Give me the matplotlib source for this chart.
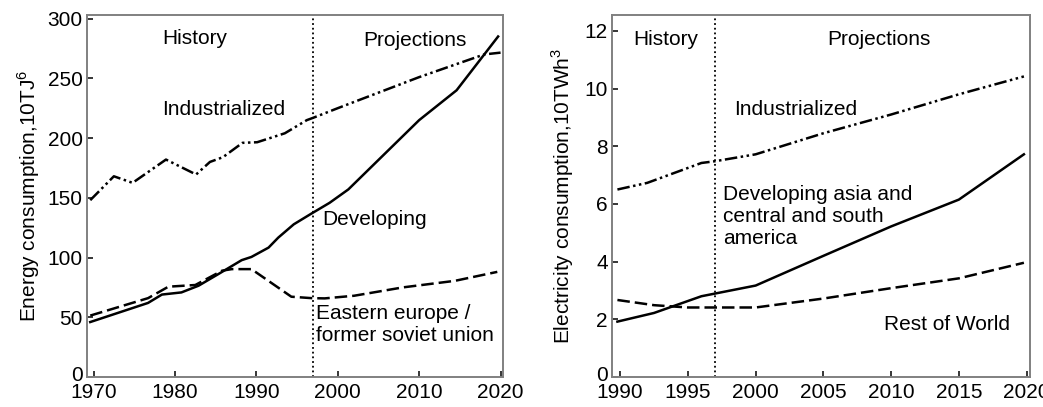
import matplotlib
matplotlib.use('Agg')
import matplotlib.pyplot as plt
import matplotlib.transforms as mtransforms

plt.rcParams['font.family'] = ['Liberation Sans', 'DejaVu Sans']
plt.rcParams['mathtext.fontset'] = 'custom'
plt.rcParams['mathtext.rm'] = 'Liberation Sans'

# left panel: energy consumption (10TJ^6)
ind_years = [1969.6, 1972.5, 1974.8, 1978.9, 1982.6, 1984.3, 1985.9, 1988.3,
             1990.1, 1993.5, 1996.2, 1997, 2000, 2010, 2018, 2020]
ind_energy = [148, 168, 162.5, 182, 169.5, 180, 184, 196,
              196.5, 204, 215, 217, 225, 251, 270, 271.5]

dev_years = [1969.6, 1976.7, 1978.4, 1980.8, 1982.9, 1985.3, 1988.2, 1989.4,
             1991.5, 1992.7, 1994.6, 1996.7, 1999.0, 2001.3, 2005.2, 2010,
             2014.6, 2019.7]
dev_energy = [46, 62, 69, 70.8, 76.4, 86, 97.8, 100.5,
              108.3, 116.7, 127.8, 136.5, 145.8, 157, 183, 215,
              240, 285]

ee_years = [1969.6, 1976.7, 1979.2, 1982.5, 1985.8, 1987, 1989.4, 1994.3,
            1996.8, 1998.4, 2002, 2008, 2014.4, 2019.6]
ee_energy = [51.4, 66, 75.6, 77, 89, 90.3, 90.3, 67.2,
             66, 65.8, 68, 75, 80.5, 88]

# right panel: electricity consumption (10TWh^3)
r_ind_years = [1989.8, 1992, 1996, 1997, 2000, 2005, 2010, 2015, 2019.8]
r_ind_elec = [6.5, 6.73, 7.42, 7.48, 7.72, 8.45, 9.1, 9.8, 10.42]

r_dev_years = [1989.8, 1992.5, 1996, 2000, 2005, 2010, 2015, 2019.8]
r_dev_elec = [1.92, 2.22, 2.8, 3.17, 4.2, 5.22, 6.15, 7.72]

r_rest_years = [1989.8, 1992.5, 1995, 2000, 2005, 2010, 2015, 2019.8]
r_rest_elec = [2.67, 2.49, 2.41, 2.41, 2.72, 3.08, 3.42, 3.96]

left_xticks = [1970, 1980, 1990, 2000, 2010, 2020]
left_yticks = [0, 50, 100, 150, 200, 250, 300]
right_xticks = [1990, 1995, 2000, 2005, 2010, 2015, 2020]
right_yticks = [0, 2, 4, 6, 8, 10, 12]

SOLID = '-'
DASHED = (0, (5.0, 2.0))
DASHDOTDOT = (0, (5.0, 1.4, 1.0, 1.4, 1.0, 1.4))
DOTTED = (0, (1.0, 1.6))
FS = 15

W, H = 1043, 407
fig = plt.figure(figsize=(W / 100, H / 100), dpi=100)
fig.patch.set_facecolor('white')


def px_axes(x0, x1, y_top, y_bot):
    return fig.add_axes([x0 / W, 1 - y_bot / H, (x1 - x0) / W, (y_bot - y_top) / H])


def style(ax):
    for s in ax.spines.values():
        s.set_color('#808080')
        s.set_linewidth(1.4)
    ax.tick_params(direction='in', length=4, width=1.1, color='black',
                   labelsize=FS)
    ax.tick_params(axis='x', pad=4)
    ax.tick_params(axis='y', pad=3)
    # lift the "0" a little so it does not sit on the first year label
    lbl = ax.yaxis.get_major_ticks()[0].label1
    lbl.set_transform(lbl.get_transform() +
                      mtransforms.ScaledTranslation(0, 2.5 / 72, fig.dpi_scale_trans))


ax1 = px_axes(87, 503, 15, 377)
ax2 = px_axes(612, 1030, 15, 377)

# left
ax1.plot(ind_years, ind_energy, color='black', lw=1.8, linestyle=DASHDOTDOT)
ax1.plot(dev_years, dev_energy, color='black', lw=1.8, linestyle=SOLID)
ax1.plot(ee_years, ee_energy, color='black', lw=1.8, linestyle=DASHED)
ax1.axvline(1997, color='black', lw=1.3, linestyle=DOTTED)
ax1.set_xlim(1969.2, 2020.3)
ax1.set_ylim(0, 303)
ax1.set_xticks(left_xticks)
ax1.set_yticks(left_yticks)
ax1.set_ylabel('Energy consumption,10TJ$^6$', fontsize=FS, labelpad=4)
style(ax1)
ax1.text(1982.4, 283, 'History', fontsize=FS, ha='center', va='center')
ax1.text(2009.5, 282, 'Projections', fontsize=FS, ha='center', va='center')
ax1.text(1978.4, 224, 'Industrialized', fontsize=FS, ha='left', va='center')
ax1.text(1998.1, 132, 'Developing', fontsize=FS, ha='left', va='center')
ax1.text(1997.3, 44, 'Eastern europe /\nformer soviet union', fontsize=FS,
         ha='left', va='center', linespacing=1.15)

# right
ax2.plot(r_ind_years, r_ind_elec, color='black', lw=1.8, linestyle=DASHDOTDOT)
ax2.plot(r_dev_years, r_dev_elec, color='black', lw=1.8, linestyle=SOLID)
ax2.plot(r_rest_years, r_rest_elec, color='black', lw=1.8, linestyle=DASHED)
ax2.axvline(1997, color='black', lw=1.3, linestyle=DOTTED)
ax2.set_xlim(1989.4, 2020.25)
ax2.set_ylim(0, 12.55)
ax2.set_xticks(right_xticks)
ax2.set_yticks(right_yticks)
ax2.set_ylabel('Electricity consumption,10TWh$^3$', fontsize=FS, labelpad=6)
style(ax2)
ax2.text(1993.4, 11.7, 'History', fontsize=FS, ha='center', va='center')
ax2.text(2009.1, 11.7, 'Projections', fontsize=FS, ha='center', va='center')
ax2.text(1998.4, 9.26, 'Industrialized', fontsize=FS, ha='left', va='center')
ax2.text(1997.6, 5.56, 'Developing asia and\ncentral and south\namerica',
         fontsize=FS, ha='left', va='center', linespacing=1.2)
ax2.text(2009.5, 1.83, 'Rest of World', fontsize=FS, ha='left', va='center')

fig.savefig('out.png', dpi=100, facecolor='white')
